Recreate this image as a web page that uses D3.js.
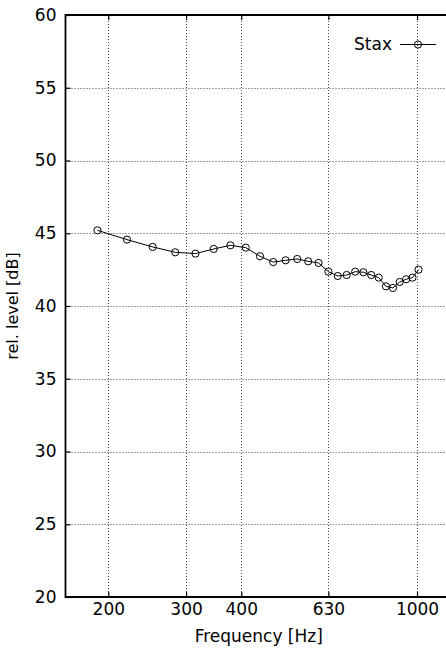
<!DOCTYPE html>
<html>
<head>
<meta charset="utf-8">
<script src="https://cdn.jsdelivr.net/npm/d3@7"></script>
<style>
  html, body { margin: 0; padding: 0; background: #fff; }
  svg { display: block; }
  text { font-family: "DejaVu Sans", sans-serif; fill: #000; }
</style>
</head>
<body>
<svg id="chart" width="446" height="648"></svg>
<script>
// ---- data ----
const frequencies = [189, 220.5, 252, 283.5, 315, 346.5, 378, 409.5, 441, 472.5, 504, 535.5, 567, 598.5,
  630, 661.5, 693, 724.5, 756, 787.5, 819, 850.5, 882, 913.5, 945, 976.5, 1008];
const staxLevels = [45.2, 44.56, 44.06, 43.69, 43.6, 43.92, 44.17, 44.01, 43.42, 43.02, 43.14, 43.23, 43.07, 42.96,
  42.36, 42.06, 42.13, 42.36, 42.32, 42.13, 41.95, 41.35, 41.24, 41.65, 41.84, 41.95, 42.5];
const xTicks = [200, 300, 400, 630, 1000];
const yTicks = [20, 25, 30, 35, 40, 45, 50, 55, 60];
const seriesName = "Stax";
const xLabel = "Frequency [Hz]";
const yLabel = "rel. level [dB]";

// ---- layout ----
const mLeft = 65.5, mRight = 452, mTop = 15, mBottom = 597;
const svg = d3.select("#chart");
const x = d3.scaleLog().domain([160, 1200]).range([mLeft, mRight]);
const y = d3.scaleLinear().domain([20, 60]).range([mBottom, mTop]);

// grid
const grid = svg.append("g").attr("stroke", "#444").attr("stroke-width", 1).attr("stroke-dasharray", "1,2");
grid.selectAll("line.v").data(xTicks).join("line")
  .attr("x1", d => Math.round(x(d)) + 0.5).attr("x2", d => Math.round(x(d)) + 0.5)
  .attr("y1", mTop).attr("y2", mBottom);
grid.selectAll("line.h").data(yTicks.filter(d => d > 20 && d < 60)).join("line")
  .attr("y1", d => Math.round(y(d)) + 0.5).attr("y2", d => Math.round(y(d)) + 0.5)
  .attr("x1", mLeft).attr("x2", mRight);

// axes
const fmt = d => String(d);
const gx = svg.append("g").attr("transform", `translate(0,${mBottom})`)
  .call(d3.axisBottom(x).tickValues(xTicks).tickFormat(fmt).tickSize(-5).tickPadding(6));
const gxt = svg.append("g").attr("transform", `translate(0,${mTop})`)
  .call(d3.axisTop(x).tickValues(xTicks).tickFormat("").tickSize(-5));
const gy = svg.append("g").attr("transform", `translate(${mLeft},0)`)
  .call(d3.axisLeft(y).tickValues(yTicks).tickFormat(fmt).tickSize(-5).tickPadding(9));
[gx, gxt, gy].forEach(g => {
  g.select(".domain").remove();
  g.selectAll(".tick line").attr("stroke", "#000").attr("stroke-width", 1.2);
  g.selectAll("text").style("font-size", "17px").attr("font-family", "DejaVu Sans, sans-serif");
});

// frame
svg.append("path")
  .attr("d", `M${mRight},${mTop}H${mLeft}V${mBottom}H${mRight}`)
  .attr("fill", "none").attr("stroke", "#000").attr("stroke-width", 1.8);

// series
const line = d3.line().x((d, i) => x(frequencies[i])).y(d => y(d));
svg.append("path").datum(staxLevels)
  .attr("d", line).attr("fill", "none").attr("stroke", "#000").attr("stroke-width", 1);
svg.append("g").selectAll("circle").data(staxLevels).join("circle")
  .attr("cx", (d, i) => x(frequencies[i])).attr("cy", d => y(d)).attr("r", 3.6)
  .attr("fill", "none").attr("stroke", "#000").attr("stroke-width", 1);

// legend
const lg = svg.append("g").attr("transform", "translate(0,44)");
lg.append("text").attr("x", 392).attr("y", 0).attr("dy", "0.35em").attr("text-anchor", "end")
  .style("font-size", "17px").text(seriesName);
lg.append("line").attr("x1", 400).attr("x2", 436).attr("y1", 0.5).attr("y2", 0.5)
  .attr("stroke", "#000").attr("stroke-width", 1);
lg.append("circle").attr("cx", 418).attr("cy", 0.5).attr("r", 3.6)
  .attr("fill", "none").attr("stroke", "#000").attr("stroke-width", 1);

// axis labels
svg.append("text").attr("x", (mLeft + mRight) / 2).attr("y", 642).attr("text-anchor", "middle")
  .style("font-size", "17px").text(xLabel);
svg.append("text").attr("transform", `translate(18,${(mTop + mBottom) / 2}) rotate(-90)`)
  .attr("text-anchor", "middle").style("font-size", "16px").text(yLabel);
</script>
</body>
</html>
